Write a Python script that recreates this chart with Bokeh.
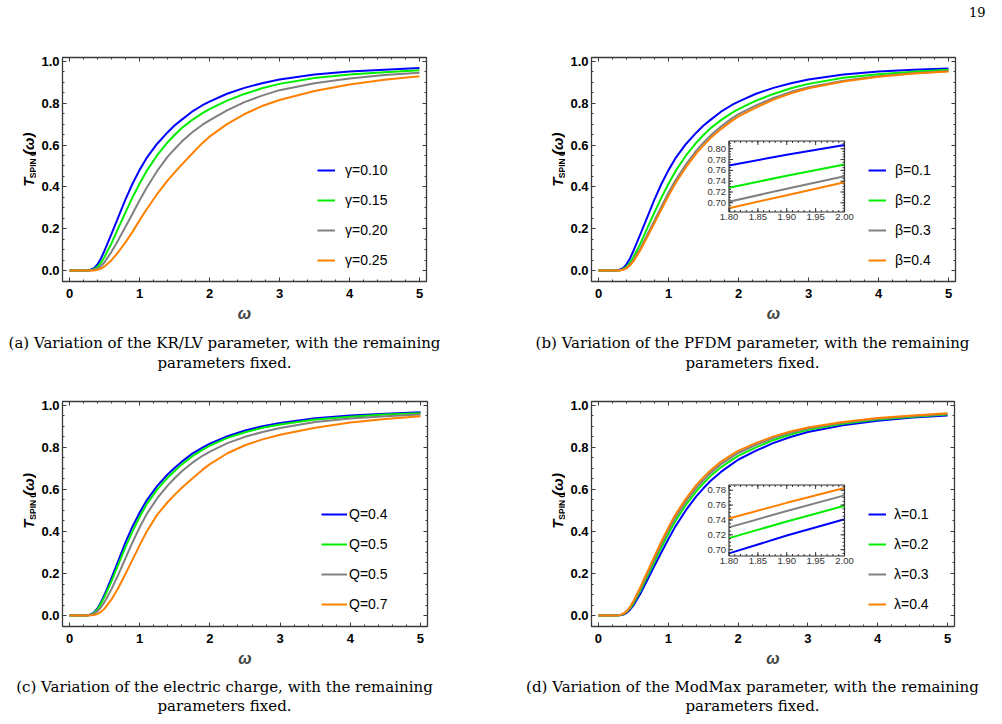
import math
from bokeh.plotting import figure
from bokeh.models import Range1d, LinearAxis, FixedTicker, Legend, LegendItem
from bokeh.layouts import column, row
from bokeh.embed import file_html
from bokeh.resources import INLINE
from bokeh.core.properties import value

# ---------------- data ----------------
omega = [0, 0.25, 0.3, 0.35, 0.4, 0.45, 0.5, 0.6, 0.7, 0.8, 0.9, 1.0, 1.1, 1.25, 1.4,
         1.5, 1.6, 1.75, 1.9, 2.0, 2.25, 2.5, 2.75, 3.0, 3.5, 4.0, 4.5, 5.0]

a_gamma_010 = [0, 0, 0.004, 0.012, 0.03, 0.058, 0.095, 0.175, 0.258, 0.34, 0.415, 0.48, 0.537, 0.605, 0.66,
               0.693, 0.72, 0.759, 0.79, 0.807, 0.845, 0.873, 0.895, 0.913, 0.937, 0.951, 0.960, 0.968]
a_gamma_015 = [0, 0, 0.002, 0.007, 0.018, 0.038, 0.065, 0.13, 0.205, 0.278, 0.35, 0.415, 0.475, 0.55, 0.612,
               0.648, 0.68, 0.719, 0.752, 0.771, 0.812, 0.844, 0.871, 0.892, 0.920, 0.937, 0.948, 0.957]
a_gamma_020 = [0, 0, 0.001, 0.004, 0.01, 0.022, 0.04, 0.09, 0.148, 0.21, 0.272, 0.335, 0.395, 0.475, 0.543,
               0.58, 0.615, 0.66, 0.697, 0.718, 0.765, 0.805, 0.836, 0.862, 0.895, 0.918, 0.934, 0.945]
a_gamma_025 = [0, 0, 0, 0.001, 0.004, 0.01, 0.02, 0.05, 0.09, 0.135, 0.185, 0.24, 0.292, 0.365, 0.43,
               0.468, 0.505, 0.558, 0.61, 0.64, 0.70, 0.748, 0.786, 0.815, 0.858, 0.889, 0.912, 0.929]
a_labels = ["γ=0.10", "γ=0.15", "γ=0.20", "γ=0.25"]

b_beta_01 = [0, 0, 0.004, 0.012, 0.03, 0.058, 0.095, 0.175, 0.258, 0.34, 0.415, 0.48, 0.537, 0.605, 0.66,
             0.693, 0.72, 0.759, 0.79, 0.807, 0.845, 0.873, 0.895, 0.913, 0.937, 0.951, 0.960, 0.966]
b_beta_02 = [0, 0, 0.002, 0.007, 0.018, 0.038, 0.065, 0.13, 0.205, 0.278, 0.35, 0.415, 0.475, 0.55, 0.612,
             0.648, 0.68, 0.719, 0.752, 0.771, 0.812, 0.844, 0.871, 0.892, 0.921, 0.938, 0.950, 0.959]
b_beta_03 = [0, 0, 0.001, 0.005, 0.013, 0.029, 0.05, 0.107, 0.174, 0.24, 0.307, 0.372, 0.432, 0.508, 0.574,
             0.611, 0.645, 0.688, 0.726, 0.748, 0.789, 0.825, 0.854, 0.876, 0.907, 0.929, 0.943, 0.953]
b_beta_04 = [0, 0, 0.001, 0.004, 0.011, 0.025, 0.045, 0.099, 0.163, 0.228, 0.293, 0.357, 0.417, 0.494, 0.561,
             0.598, 0.633, 0.676, 0.714, 0.737, 0.779, 0.817, 0.847, 0.871, 0.903, 0.926, 0.941, 0.951]
b_labels = ["β=0.1", "β=0.2", "β=0.3", "β=0.4"]

c_Q_04 = [0, 0, 0.005, 0.015, 0.035, 0.065, 0.10, 0.18, 0.265, 0.35, 0.425, 0.49, 0.548, 0.617, 0.672,
          0.703, 0.732, 0.77, 0.80, 0.818, 0.853, 0.88, 0.90, 0.916, 0.938, 0.951, 0.960, 0.967]
c_Q_05a = [0, 0, 0.004, 0.013, 0.03, 0.058, 0.09, 0.165, 0.247, 0.328, 0.403, 0.47, 0.53, 0.60, 0.657,
           0.689, 0.719, 0.758, 0.789, 0.808, 0.845, 0.872, 0.893, 0.909, 0.932, 0.946, 0.956, 0.962]
c_Q_05b = [0, 0, 0.003, 0.009, 0.021, 0.04, 0.065, 0.127, 0.198, 0.275, 0.35, 0.42, 0.483, 0.558, 0.619,
           0.654, 0.686, 0.727, 0.761, 0.78, 0.82, 0.85, 0.873, 0.892, 0.92, 0.937, 0.948, 0.956]
c_Q_07 = [0, 0, 0.001, 0.003, 0.008, 0.018, 0.033, 0.078, 0.135, 0.20, 0.267, 0.335, 0.40, 0.48, 0.54,
          0.575, 0.608, 0.652, 0.695, 0.72, 0.772, 0.81, 0.838, 0.86, 0.893, 0.918, 0.935, 0.948]
c_labels = ["Q=0.4", "Q=0.5", "Q=0.5", "Q=0.7"]

d_lambda_01 = [0, 0, 0.001, 0.004, 0.012, 0.027, 0.048, 0.104, 0.169, 0.235, 0.30, 0.363, 0.423, 0.50, 0.567,
               0.604, 0.639, 0.682, 0.718, 0.741, 0.783, 0.82, 0.849, 0.873, 0.905, 0.927, 0.942, 0.952]
d_lambda_02 = [0, 0, 0.002, 0.006, 0.016, 0.033, 0.057, 0.118, 0.187, 0.256, 0.324, 0.389, 0.449, 0.525, 0.591,
               0.628, 0.662, 0.704, 0.738, 0.759, 0.799, 0.834, 0.861, 0.883, 0.912, 0.932, 0.946, 0.956]
d_lambda_03 = [0, 0, 0.002, 0.007, 0.018, 0.037, 0.063, 0.127, 0.198, 0.269, 0.339, 0.405, 0.466, 0.542, 0.607,
               0.643, 0.677, 0.719, 0.752, 0.773, 0.811, 0.844, 0.869, 0.889, 0.917, 0.936, 0.949, 0.959]
d_lambda_04 = [0, 0, 0.002, 0.008, 0.02, 0.04, 0.068, 0.135, 0.208, 0.28, 0.351, 0.418, 0.479, 0.555, 0.62,
               0.656, 0.689, 0.731, 0.763, 0.783, 0.82, 0.851, 0.875, 0.894, 0.921, 0.94, 0.952, 0.962]
d_labels = ["λ=0.1", "λ=0.2", "λ=0.3", "λ=0.4"]

# insets (zoom of 1.80 <= omega <= 2.00)
inset_omega = [1.80, 1.90, 2.00]
b_inset = [[0.769, 0.789, 0.807], [0.728, 0.750, 0.771], [0.702, 0.726, 0.749], [0.690, 0.714, 0.738]]
d_inset = [[0.695, 0.719, 0.741], [0.7155, 0.738, 0.759], [0.730, 0.752, 0.773], [0.742, 0.763, 0.783]]
inset_x_ticks = [1.80, 1.85, 1.90, 1.95, 2.00]
inset_x_labels = ["1.80", "1.85", "1.90", "1.95", "2.00"]
b_inset_y_ticks = [0.70, 0.72, 0.74, 0.76, 0.78, 0.80]
b_inset_y_labels = ["0.70", "0.72", "0.74", "0.76", "0.78", "0.80"]
d_inset_y_ticks = [0.70, 0.72, 0.74, 0.76, 0.78]
d_inset_y_labels = ["0.70", "0.72", "0.74", "0.76", "0.78"]
b_inset_yrange = (0.683, 0.8143)
d_inset_yrange = (0.6915, 0.787)
inset_xrange = (1.80, 2.00)

x_ticks = [0, 1, 2, 3, 4, 5]
x_tick_labels = ["0", "1", "2", "3", "4", "5"]
y_ticks = [0.0, 0.2, 0.4, 0.6, 0.8, 1.0]
y_tick_labels = ["0.0", "0.2", "0.4", "0.6", "0.8", "1.0"]

captions = {
    "a": ["(a) Variation of the KR/LV parameter, with the remaining", "parameters fixed."],
    "b": ["(b) Variation of the PFDM parameter, with the remaining", "parameters fixed."],
    "c": ["(c) Variation of the electric charge, with the remaining", "parameters fixed."],
    "d": ["(d) Variation of the ModMax parameter, with the remaining", "parameters fixed."],
}
page_number = "19"
y_label_parts = ["T", "SPIN 0", "(ω)"]

COLORS = ["#0000ff", "#00ee00", "#808080", "#ff8000"]
X0, X1 = -0.1, 5.1
Y0, Y1 = -0.052, 1.018
TICK_FONT = "Liberation Sans"
CAP_FONT = "DejaVu Serif"


def blank(x0, x1, y0, y1):
    """A figure without axes; its x range is page pixels and its y range is minus page pixels."""
    p = figure(width=int(x1 - x0), height=int(y1 - y0), output_backend="svg", toolbar_location=None,
               x_range=Range1d(x0, x1), y_range=Range1d(-y1, -y0),
               x_axis_type=None, y_axis_type=None, min_border=0)
    p.min_border_left = p.min_border_right = p.min_border_top = p.min_border_bottom = 0
    p.outline_line_color = None
    p.grid.visible = False
    p.background_fill_color = "white"
    p.border_fill_color = "white"
    return p


def ylabel_fig(x0, x1, y0, y1, frame):
    fl, ft, fr, fb = frame
    p = blank(x0, x1, y0, y1)
    xc = fl - 34          # centre line of the large letters
    ys0 = (ft + fb) / 2 + 32
    common = dict(angle=math.pi / 2, text_align="left", text_baseline="middle",
                  text_font=value(TICK_FONT), text_color="black")
    p.text(x=[xc], y=[-ys0], text=[y_label_parts[0]], text_font_style="bold italic",
           text_font_size=value("15px"), **common)
    p.text(x=[xc + 4], y=[-(ys0 - 12)], text=[y_label_parts[1]], text_font_style="bold",
           text_font_size=value("8.5px"), **common)
    p.text(x=[xc], y=[-(ys0 - 44)], text=[y_label_parts[2]], text_font_style="bold italic",
           text_font_size=value("15px"), **common)
    return p


def caption_fig(x0, x1, y0, y1, lines, cx, cys):
    p = blank(x0, x1, y0, y1)
    p.text(x=[cx] * len(lines), y=[-c for c in cys], text=lines, text_align="center",
           text_baseline="middle", text_font=value(CAP_FONT), text_font_size=value("15px"),
           text_color="black")
    return p


def main_fig(canvas, frame, series, labels, legend_cfg, inset=None):
    cx0, cy0, cx1, cy1 = canvas
    fl, ft, fr, fb = frame
    p = figure(width=int(cx1 - cx0), height=int(cy1 - cy0), output_backend="svg", toolbar_location=None,
               x_range=Range1d(X0, X1), y_range=Range1d(Y0, Y1),
               min_border_left=fl - cx0, min_border_right=cx1 - fr,
               min_border_top=ft - cy0, min_border_bottom=cy1 - fb)
    p.grid.visible = False
    p.background_fill_color = "white"
    p.border_fill_color = "white"
    p.outline_line_color = "#3a3a3a"
    p.outline_line_width = 1.3

    bottom_ax = p.below[0]
    left_ax = p.left[0]
    xt = FixedTicker(ticks=x_ticks, minor_ticks=[i / 5 for i in range(0, 26)])
    yt = FixedTicker(ticks=y_ticks, minor_ticks=[i / 20 for i in range(0, 21)])
    bottom_ax.ticker = xt
    bottom_ax.major_label_overrides = dict(zip(x_ticks, x_tick_labels))
    left_ax.ticker = yt
    left_ax.major_label_overrides = dict(zip(y_ticks, y_tick_labels))
    top_ax = LinearAxis(ticker=xt, major_label_text_color=None, major_label_standoff=0)
    right_ax = LinearAxis(ticker=yt, major_label_text_color=None, major_label_standoff=0)
    p.add_layout(top_ax, "above")
    p.add_layout(right_ax, "right")
    for ax in (bottom_ax, left_ax, top_ax, right_ax):
        ax.axis_line_color = None
        ax.major_tick_in = 4
        ax.major_tick_out = 0
        ax.minor_tick_in = 2
        ax.minor_tick_out = 0
        ax.major_tick_line_color = "#3a3a3a"
        ax.minor_tick_line_color = "#3a3a3a"
        ax.major_label_text_font = TICK_FONT
        ax.major_label_text_font_style = "bold"
        ax.major_label_text_font_size = "13px"
    bottom_ax.major_label_text_color = "black"
    left_ax.major_label_text_color = "black"
    left_ax.major_label_standoff = 3
    bottom_ax.major_label_standoff = 7
    bottom_ax.axis_label = "ω"
    bottom_ax.axis_label_text_font = TICK_FONT
    bottom_ax.axis_label_text_font_style = "bold italic"
    bottom_ax.axis_label_text_font_size = "16px"
    bottom_ax.axis_label_standoff = 4

    rends = []
    for ys, col in zip(series, COLORS):
        rends.append(p.line(omega, ys, line_color=col, line_width=2))

    if inset is not None:
        box, yr, inset_series, yticks, ylabs = inset
        bl, bt, br, bb = box
        ix0, ix1 = inset_xrange
        iy0, iy1 = yr
        ppx = (br - bl) / (ix1 - ix0)
        ppy = (bb - bt) / (iy1 - iy0)
        ys_start = iy0 - (fb - bb) / ppy
        p.extra_x_ranges = {"ix": Range1d(ix0 - (bl - fl) / ppx, ix0 + (fr - bl) / ppx)}
        p.extra_y_ranges = {"iy": Range1d(ys_start, ys_start + (fb - ft) / ppy)}
        kw = dict(x_range_name="ix", y_range_name="iy")
        p.quad(left=[ix0], right=[ix1], bottom=[iy0], top=[iy1], fill_color="white",
               line_color="#333333", line_width=1.2, **kw)
        for ys, col in zip(inset_series, COLORS):
            p.line(inset_omega, ys, line_color=col, line_width=2, **kw)
        minor_x = [ix0 + i * 0.01 for i in range(1, 20)]
        minor_y = [round(0.685 + i * 0.005, 4) for i in range(0, 27)]
        minor_y = [v for v in minor_y if iy0 < v < iy1]
        tk = dict(line_color="#333333", line_width=1, length_units="screen", **kw)
        p.ray(x=[ix0] * len(yticks), y=yticks, length=4, angle=0, **tk)
        p.ray(x=[ix1] * len(yticks), y=yticks, length=4, angle=math.pi, **tk)
        p.ray(x=[ix0] * len(minor_y), y=minor_y, length=2, angle=0, **tk)
        p.ray(x=[ix1] * len(minor_y), y=minor_y, length=2, angle=math.pi, **tk)
        p.ray(x=inset_x_ticks, y=[iy0] * 5, length=4, angle=math.pi / 2, **tk)
        p.ray(x=inset_x_ticks, y=[iy1] * 5, length=4, angle=-math.pi / 2, **tk)
        p.ray(x=minor_x, y=[iy0] * len(minor_x), length=2, angle=math.pi / 2, **tk)
        p.ray(x=minor_x, y=[iy1] * len(minor_x), length=2, angle=-math.pi / 2, **tk)
        p.text(x=[ix0] * len(yticks), y=yticks, text=ylabs, x_offset=-3,
               text_align="right", text_baseline="middle", text_font=value(TICK_FONT),
               text_font_size=value("9.5px"), text_color="#333333", **kw)
        p.text(x=inset_x_ticks, y=[iy0] * 5, text=inset_x_labels, y_offset=2,
               text_align="center", text_baseline="top", text_font=value(TICK_FONT),
               text_font_size=value("9.5px"), text_color="#333333", **kw)

    gx, gy, gw, gs = legend_cfg
    items = [LegendItem(label=lab, renderers=[r]) for lab, r in zip(labels, rends)]
    leg = Legend(items=items, location=(gx - fl, fb - gy - 10), padding=0, margin=0, spacing=10,
                 label_height=20, glyph_height=20, glyph_width=gw, label_standoff=gs,
                 border_line_color=None, background_fill_alpha=0,
                 label_text_font=TICK_FONT, label_text_font_size="14px", label_text_color="black")
    p.add_layout(leg)
    return p


# ---------------- page layout (page pixels) ----------------
HEAD = 22
R1_MAIN = 332   # bottom of top-row plots
R1_END = 376    # bottom of top-row captions
R2_MAIN = 676
R2_END = 724

frame_a = (62, 57, 426, 281)
frame_b = (591, 57, 955, 281)
frame_c = (62, 401, 427, 626)
frame_d = (591, 401, 954, 626)

header = blank(0, 1002, 0, HEAD)
header.text(x=[985], y=[-11], text=[page_number], text_align="right", text_baseline="middle",
            text_font=value(CAP_FONT), text_font_size=value("13px"), text_color="black")

ya = ylabel_fig(0, 36, HEAD, R1_MAIN, frame_a)
pa = main_fig((36, HEAD, 501, R1_MAIN), frame_a,
              [a_gamma_010, a_gamma_015, a_gamma_020, a_gamma_025], a_labels, (317, 260, 18, 10))
ca = caption_fig(0, 501, R1_MAIN, R1_END, captions["a"], 224, [342, 362])

yb = ylabel_fig(501, 565, HEAD, R1_MAIN, frame_b)
pb = main_fig((565, HEAD, 1002, R1_MAIN), frame_b,
              [b_beta_01, b_beta_02, b_beta_03, b_beta_04], b_labels, (868, 260, 18, 9),
              inset=((728.5, 140.5, 844, 211.5), b_inset_yrange, b_inset,
                     b_inset_y_ticks, b_inset_y_labels))
cb = caption_fig(501, 1002, R1_MAIN, R1_END, captions["b"], 752, [342, 362])

yc = ylabel_fig(0, 36, R1_END, R2_MAIN, frame_c)
pc = main_fig((36, R1_END, 501, R2_MAIN), frame_c,
              [c_Q_04, c_Q_05a, c_Q_05b, c_Q_07], c_labels, (321, 604, 26, 2))
cc = caption_fig(0, 501, R2_MAIN, R2_END, captions["c"], 224, [686, 705])

yd = ylabel_fig(501, 565, R1_END, R2_MAIN, frame_d)
pd = main_fig((565, R1_END, 1002, R2_MAIN), frame_d,
              [d_lambda_01, d_lambda_02, d_lambda_03, d_lambda_04], d_labels, (868, 604, 18, 8),
              inset=((728.5, 484.5, 844, 555.5), d_inset_yrange, d_inset,
                     d_inset_y_ticks, d_inset_y_labels))
cd = caption_fig(501, 1002, R2_MAIN, R2_END, captions["d"], 752, [686, 705])

layout = column(
    header,
    row(column(row(ya, pa, spacing=0), ca, spacing=0), column(row(yb, pb, spacing=0), cb, spacing=0), spacing=0),
    row(column(row(yc, pc, spacing=0), cc, spacing=0), column(row(yd, pd, spacing=0), cd, spacing=0), spacing=0),
    spacing=0,
)
open("out.html", "w").write(file_html(layout, INLINE))
